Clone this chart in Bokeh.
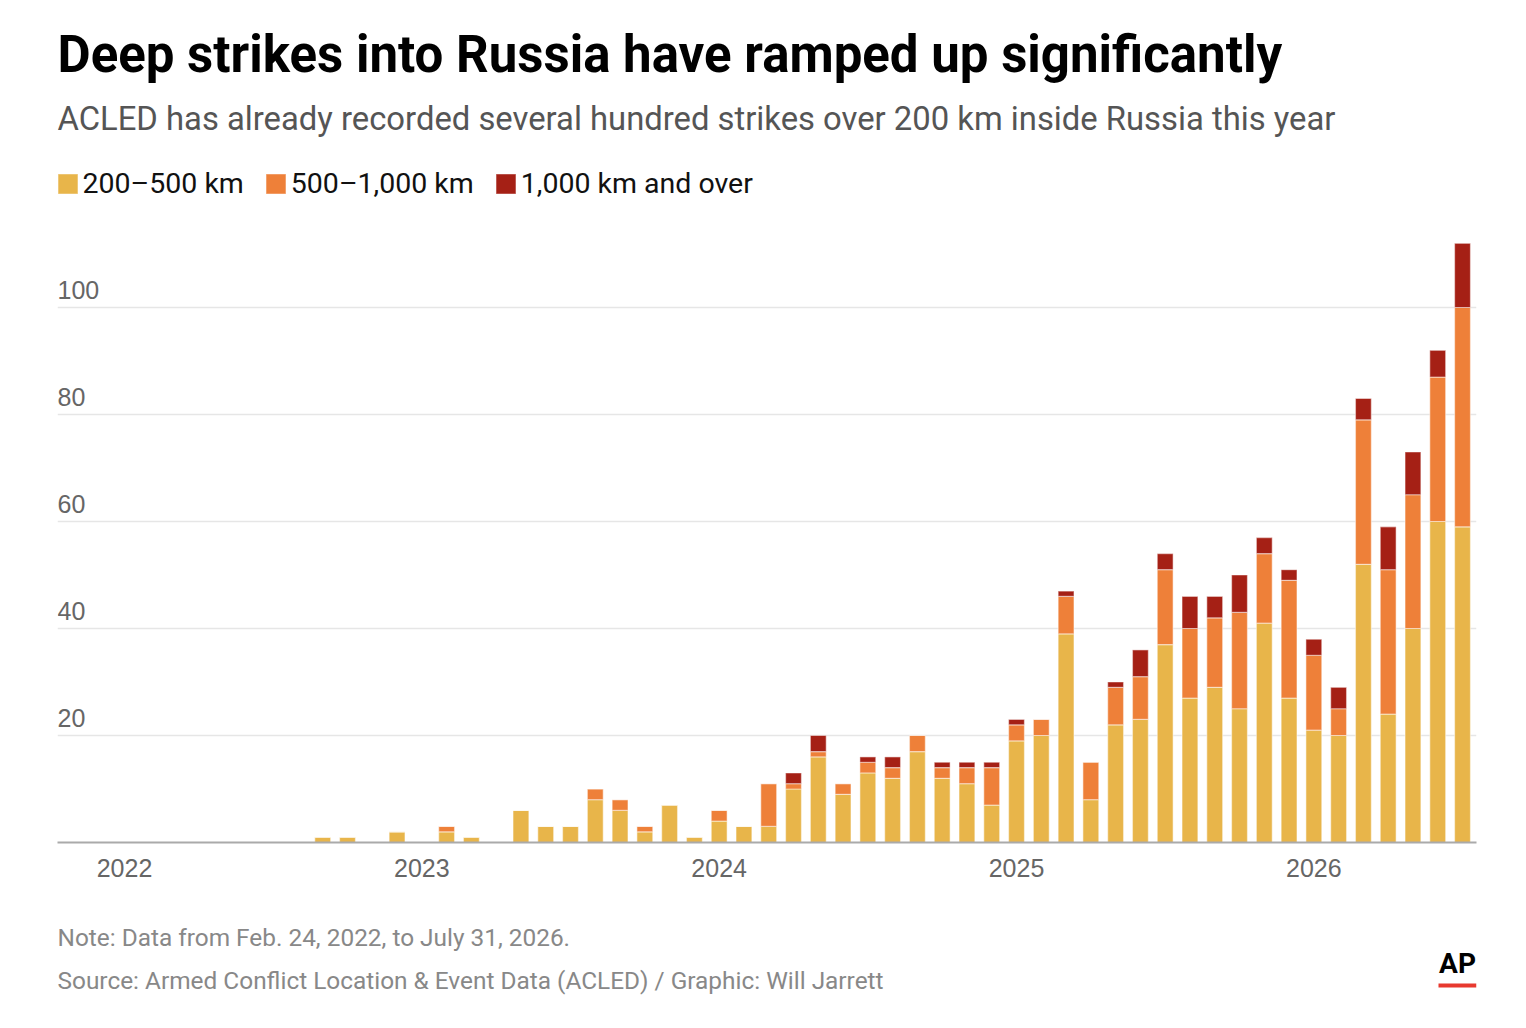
import pandas as pd
from bokeh.plotting import figure
from bokeh.layouts import column
from bokeh.models import (ColumnDataSource, Range1d, FixedTicker, Label, Legend,
                          LegendItem, BoxAnnotation)
from bokeh.core.properties import value
from bokeh.embed import file_html
from bokeh.resources import INLINE

# ---------------- data (monthly counts, Jan 2022 .. Jul 2026) ----------------
months = [p.strftime("%Y-%m") for p in pd.period_range("2022-01", "2026-07", freq="M")]

km_200_500 = [0, 0, 0, 0, 0, 0, 0, 0, 1, 1, 0, 2,
              0, 2, 1, 0, 6, 3, 3, 8, 6, 2, 7, 1,
              4, 3, 3, 10, 16, 9, 13, 12, 17, 12, 11, 7,
              19, 20, 39, 8, 22, 23, 37, 27, 29, 25, 41, 27,
              21, 20, 52, 24, 40, 60, 59]
km_500_1000 = [0, 0, 0, 0, 0, 0, 0, 0, 0, 0, 0, 0,
               0, 1, 0, 0, 0, 0, 0, 2, 2, 1, 0, 0,
               2, 0, 8, 1, 1, 2, 2, 2, 3, 2, 3, 7,
               3, 3, 7, 7, 7, 8, 14, 13, 13, 18, 13, 22,
               14, 5, 27, 27, 25, 27, 41]
km_1000_plus = [0, 0, 0, 0, 0, 0, 0, 0, 0, 0, 0, 0,
                0, 0, 0, 0, 0, 0, 0, 0, 0, 0, 0, 0,
                0, 0, 0, 2, 3, 0, 1, 2, 0, 1, 1, 1,
                1, 0, 1, 0, 1, 5, 3, 6, 4, 7, 3, 2,
                3, 4, 4, 8, 8, 5, 12]

series_labels = ["200\u2013500 km", "500\u20131,000 km", "1,000 km and over"]
series_colors = ["#E8B54A", "#EE8039", "#A52015"]

year_labels = ["2022", "2023", "2024", "2025", "2026"]
y_ticks = [20, 40, 60, 80, 100]

title_text = "Deep strikes into Russia have ramped up significantly"
subtitle_text = "ACLED has already recorded several hundred strikes over 200 km inside Russia this year"
note_text = "Note: Data from Feb. 24, 2022, to July 31, 2026."
source_text = "Source: Armed Conflict Location & Event Data (ACLED) / Graphic: Will Jarrett"

# ---------------- layout constants (page px) ----------------
FRAME_L, FRAME_R, FRAME_T, FRAME_B = 57, 1476, 0, 842
W, H_MAIN, H_FOOT = 1510, 900, 110
PX_PER_MONTH = 24.778
PX_PER_UNIT = 5.35
JAN22_PX = 124

x_idx = list(range(len(months)))
year_ticks = [months.index(y + "-01") for y in year_labels]

src = ColumnDataSource(dict(x=x_idx, a=km_200_500, b=km_500_1000, c=km_1000_plus))

x0 = -(JAN22_PX - FRAME_L) / PX_PER_MONTH
x1 = x0 + (FRAME_R - FRAME_L) / PX_PER_MONTH
y1 = (FRAME_B - FRAME_T) / PX_PER_UNIT

p = figure(width=W, height=H_MAIN, output_backend="svg", toolbar_location=None,
           x_range=Range1d(x0, x1), y_range=Range1d(0, y1), y_axis_location=None,
           min_border_left=FRAME_L, min_border_right=W - FRAME_R,
           min_border_top=FRAME_T, min_border_bottom=H_MAIN - FRAME_B)
p.outline_line_color = None
p.background_fill_color = "white"
p.border_fill_color = "white"

renderers = p.vbar_stack(["a", "b", "c"], x="x", width=0.64, source=src,
                         fill_color=series_colors, line_color="white",
                         line_alpha=0.45, line_width=1.2)

# x axis
xa = p.xaxis[0]
xa.ticker = FixedTicker(ticks=year_ticks)
xa.major_label_overrides = {t: l for t, l in zip(year_ticks, year_labels)}
xa.major_tick_line_color = None
xa.minor_tick_line_color = None
xa.axis_line_color = "#aaaaaa"
xa.axis_line_width = 2
xa.major_label_text_font = "Liberation Sans"
xa.major_label_text_font_size = "25px"
xa.major_label_text_color = "#666666"
xa.major_label_standoff = 10

p.xgrid.visible = False
p.ygrid.ticker = FixedTicker(ticks=y_ticks)
p.ygrid.grid_line_color = "#e6e6e6"
p.ygrid.grid_line_width = 1.5

# y tick labels above grid lines
p.text(x=[x0] * len(y_ticks), y=y_ticks, text=[str(t) for t in y_ticks],
       text_align="left", text_baseline="middle", y_offset=-18,
       text_font=value("Liberation Sans"), text_font_size="25px", text_color="#666666")

# legend (inside the frame, above the bars)
legend = Legend(items=[LegendItem(label=l, renderers=[r]) for l, r in zip(series_labels, renderers)],
                orientation="horizontal", location=(-2.5, FRAME_B - 200),
                glyph_width=25, glyph_height=25, label_standoff=3, spacing=19,
                label_text_font="Roboto", label_text_font_size="28.5px", label_text_color="#111111",
                label_width=0, label_height=20, padding=0, margin=0,
                border_line_color=None, background_fill_alpha=0)
p.add_layout(legend, "center")


def lab(fig, fb, fl, text, px, py, size, color, font="Roboto", style="normal", align="left"):
    fig.add_layout(Label(x=px - fl, y=fb - py, x_units="screen", y_units="screen",
                         text=text, text_font=font, text_font_size=size, text_color=color,
                         text_font_style=style, text_baseline="middle", text_align=align))


lab(p, FRAME_B, FRAME_L, title_text, 57, 54, "51px", "#000000", style="bold")
lab(p, FRAME_B, FRAME_L, subtitle_text, 57, 118, "32.8px", "#555555")

# footer (its frame is aligned with the main frame by the column layout)
f = figure(width=W, height=H_FOOT, output_backend="svg", toolbar_location=None,
           x_range=Range1d(0, FRAME_R - FRAME_L), y_range=Range1d(0, H_FOOT),
           x_axis_location=None, y_axis_location=None,
           min_border_left=FRAME_L, min_border_right=W - FRAME_R,
           min_border_top=0, min_border_bottom=0)
f.grid.visible = False
f.outline_line_color = None
f.border_fill_color = "white"
FOOT_B = H_MAIN + H_FOOT
lab(f, FOOT_B, FRAME_L, note_text, 57, 937, "24.4px", "#888888")
lab(f, FOOT_B, FRAME_L, source_text, 57, 980, "24.4px", "#888888")
lab(f, FOOT_B, FRAME_L, "AP", 1457, 963, "28px", "#000000", style="bold", align="center")
f.add_layout(BoxAnnotation(left=1438 - FRAME_L, right=1476 - FRAME_L,
                           top=FOOT_B - 983, bottom=FOOT_B - 987,
                           left_units="screen", right_units="screen",
                           top_units="screen", bottom_units="screen",
                           fill_color="#E8392F", fill_alpha=1, line_color=None))

layout = column(p, f, spacing=0)
open("out.html", "w").write(file_html(layout, INLINE))
